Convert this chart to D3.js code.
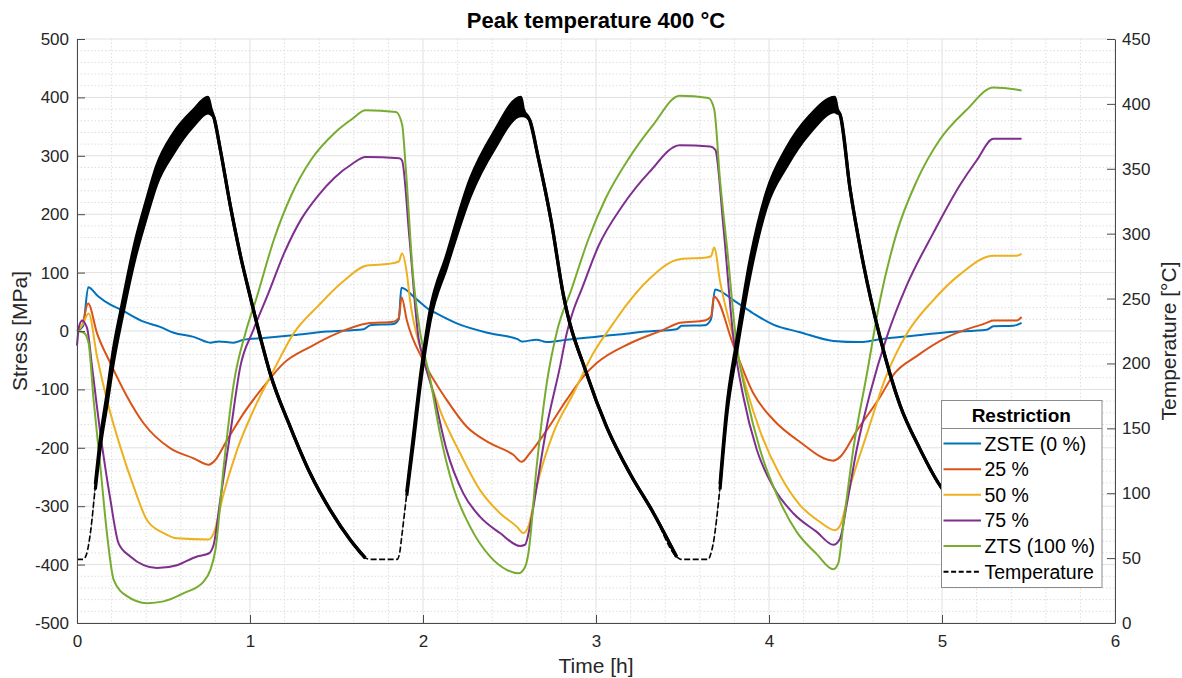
<!DOCTYPE html>
<html>
<head>
<meta charset="utf-8">
<script src="https://cdn.jsdelivr.net/npm/d3@7"></script>
<style>
  body { margin: 0; background: #fff; }
  text { font-family: "Liberation Sans", Arial, sans-serif; }
</style>
</head>
<body>
<div id="chart-container"></div>
<script>
// time [h] vs stress [MPa], one array per restriction level
const zsteData = [[0,0],[0.035,8],[0.065,75],[0.12,60],[0.193,45],[0.25,37],[0.385,16],[0.48,7],[0.559,-3],[0.674,-10],[0.771,-20],[0.82,-18],[0.905,-20],[0.963,-15],[1.079,-12],[1.252,-7],[1.445,-1],[1.657,3],[1.695,10],[1.83,12],[1.86,20],[1.875,74],[1.96,55],[2.04,36],[2.078,30],[2.195,13],[2.387,-4],[2.547,-14],[2.57,-18],[2.657,-15],[2.715,-19],[2.83,-15],[3.1,-7],[3.293,-1],[3.466,3],[3.495,9],[3.63,10],[3.665,20],[3.688,71],[3.794,53],[3.91,30],[4.025,11],[4.179,-2],[4.372,-17],[4.526,-19],[4.642,-14],[4.834,-8],[5.027,-2],[5.258,2],[5.297,8],[5.412,9],[5.46,14]];
const r25Data = [[0,0],[0.03,10],[0.064,47],[0.116,-4],[0.193,-55],[0.289,-112],[0.385,-158],[0.54,-201],[0.674,-218],[0.761,-229],[0.79,-224],[0.867,-187],[0.963,-141],[1.079,-95],[1.195,-55],[1.349,-27],[1.503,-4],[1.676,13],[1.83,16],[1.86,22],[1.876,58],[1.906,19],[2.0,-50],[2.137,-118],[2.253,-164],[2.387,-192],[2.522,-212],[2.57,-224],[2.618,-209],[2.715,-170],[2.83,-118],[2.927,-78],[3.004,-55],[3.197,-21],[3.389,2],[3.486,14],[3.63,18],[3.665,25],[3.682,59],[3.794,-24],[3.91,-107],[4.025,-152],[4.179,-190],[4.372,-222],[4.41,-216],[4.507,-171],[4.642,-113],[4.719,-75],[4.854,-43],[5.027,-11],[5.258,14],[5.297,18],[5.432,18],[5.46,24]];
const r50Data = [[0,0],[0.03,10],[0.067,30],[0.116,-44],[0.173,-118],[0.25,-198],[0.328,-267],[0.405,-324],[0.501,-346],[0.578,-355],[0.761,-357],[0.79,-346],[0.848,-278],[0.925,-204],[1.021,-135],[1.137,-67],[1.252,-4],[1.394,43],[1.531,83],[1.677,112],[1.805,115],[1.86,119],[1.879,133],[1.906,100],[1.925,53],[2.0,-44],[2.098,-135],[2.214,-209],[2.329,-272],[2.445,-312],[2.542,-335],[2.58,-346],[2.609,-335],[2.657,-267],[2.753,-175],[2.869,-107],[2.984,-38],[3.1,13],[3.172,43],[3.308,89],[3.484,123],[3.64,126],[3.665,128],[3.683,143],[3.717,85],[3.794,-11],[3.871,-100],[3.948,-171],[4.064,-247],[4.179,-298],[4.295,-327],[4.382,-341],[4.41,-334],[4.468,-267],[4.565,-177],[4.68,-75],[4.796,-5],[4.95,53],[5.104,97],[5.297,129],[5.432,129],[5.46,132]];
const r75Data = [[0,-25],[0.012,8],[0.03,18],[0.048,12],[0.06,3],[0.087,-61],[0.135,-175],[0.193,-289],[0.241,-364],[0.308,-386],[0.385,-401],[0.462,-406],[0.578,-401],[0.694,-386],[0.761,-381],[0.79,-366],[0.828,-289],[0.886,-175],[0.944,-61],[1.017,0],[1.1,60],[1.2,135],[1.297,192],[1.394,232],[1.49,263],[1.59,286],[1.668,298],[1.863,296],[1.879,292],[1.922,158],[1.975,-14],[2.0,-45],[2.06,-107],[2.137,-204],[2.233,-278],[2.329,-318],[2.445,-346],[2.561,-368],[2.59,-366],[2.618,-335],[2.657,-267],[2.715,-164],[2.792,-61],[2.83,-5],[2.869,35],[2.918,72],[3.015,146],[3.152,214],[3.308,272],[3.484,318],[3.66,316],[3.69,310],[3.736,180],[3.794,-11],[3.852,-113],[3.929,-203],[4.025,-267],[4.14,-312],[4.276,-344],[4.372,-366],[4.41,-356],[4.449,-298],[4.507,-203],[4.584,-107],[4.68,-11],[4.796,78],[4.95,168],[5.104,250],[5.2,292],[5.297,329],[5.46,329]];
const ztsData = [[0,0],[0.04,-3],[0.067,-21],[0.096,-118],[0.135,-232],[0.173,-346],[0.212,-426],[0.289,-454],[0.405,-466],[0.501,-463],[0.617,-449],[0.732,-429],[0.771,-409],[0.8,-375],[0.848,-232],[0.906,-90],[0.977,0],[1.035,54],[1.14,158],[1.238,232],[1.355,294],[1.492,340],[1.59,363],[1.668,378],[1.844,375],[1.879,354],[1.902,272],[1.941,100],[1.985,-5],[2.04,-80],[2.098,-175],[2.175,-267],[2.272,-335],[2.387,-386],[2.484,-409],[2.551,-415],[2.59,-404],[2.609,-381],[2.657,-232],[2.715,-90],[2.775,0],[2.859,72],[2.957,158],[3.054,226],[3.191,296],[3.328,352],[3.484,403],[3.65,399],[3.683,380],[3.717,258],[3.76,135],[3.813,-24],[3.871,-113],[3.948,-203],[4.045,-280],[4.16,-344],[4.276,-382],[4.372,-408],[4.4,-398],[4.43,-331],[4.487,-203],[4.565,-75],[4.642,53],[4.738,168],[4.854,257],[4.988,328],[5.143,379],[5.297,417],[5.46,412]];

// temperature: time [h], upper and lower edge of the oscillating band [°C]
const tempData = [[0,49,49],[0.035,49,49],[0.055,53,53],[0.077,70,68],[0.106,107,103],[0.135,142,136],[0.173,176,168],[0.212,212,202],[0.26,245,235],[0.335,293,281],[0.4,325,312],[0.46,352,338],[0.557,377,362],[0.672,395,383],[0.757,405,393],[0.775,396,392],[0.79,390,390],[0.828,365,365],[0.887,321,321],[0.945,283,283],[1.004,250,250],[1.062,219,219],[1.117,192,192],[1.233,151,151],[1.349,115,115],[1.464,87,87],[1.58,64,64],[1.667,50,50],[1.7,49,49],[1.85,49,49],[1.865,54,54],[1.877,67,66],[1.906,101,98],[1.944,144,138],[1.983,188,182],[2.04,240,232],[2.136,283,274],[2.273,342,329],[2.41,378,365],[2.566,405,391],[2.58,396,391],[2.615,388,388],[2.664,360,360],[2.742,309,309],[2.811,253,253],[2.946,192,192],[3.062,151,151],[3.197,115,115],[3.331,85,85],[3.466,51,51],[3.49,49,49],[3.649,49,49],[3.665,54,54],[3.678,62,61],[3.717,107,103],[3.755,165,159],[3.813,217,209],[3.89,279,268],[3.986,332,321],[4.102,366,352],[4.237,391,378],[4.38,405,394],[4.395,396,393],[4.41,392,392],[4.468,335,335],[4.545,277,277],[4.642,220,220],[4.757,168,168],[4.873,134,134],[4.988,106,106],[5.02,100,100]];

const seriesNames = ["ZSTE (0 %)", "25 %", "50 %", "75 %", "ZTS (100 %)"];
const seriesList = [zsteData, r25Data, r50Data, r75Data, ztsData];
const seriesColors = ["#0072BD", "#D95319", "#EDB120", "#7E2F8E", "#77AC30"];
const xTicks = [0, 1, 2, 3, 4, 5, 6];
const stressTicks = [-500, -400, -300, -200, -100, 0, 100, 200, 300, 400, 500];
const tempTicks = [0, 50, 100, 150, 200, 250, 300, 350, 400, 450];

const margin = { top: 39, right: 67, bottom: 55, left: 77 };
const width = 1182 - margin.left - margin.right;
const height = 678 - margin.top - margin.bottom;

const xScale = d3.scaleLinear().domain([0, 6]).range([0, width]);
const yScale = d3.scaleLinear().domain([-500, 500]).range([height, 0]);
const yTemp = d3.scaleLinear().domain([0, 450]).range([height, 0]);

const root = d3
  .select("#chart-container")
  .append("svg")
  .attr("width", 1182)
  .attr("height", 678);

const svg = root
  .append("g")
  .attr("transform", `translate(${margin.left},${margin.top})`);

// minor grid (dotted), then major grid
const minorX = d3.range(0.2, 6, 0.2).filter((v) => Math.abs(v - Math.round(v)) > 0.01);
const minorY = d3.range(-480, 500, 20).filter((v) => v % 100 !== 0);
const grid = svg.append("g");
grid.selectAll(".mx").data(minorX).join("line")
  .attr("x1", (d) => xScale(d)).attr("x2", (d) => xScale(d))
  .attr("y1", 0).attr("y2", height)
  .attr("stroke", "#dedede").attr("stroke-dasharray", "1.5,2");
grid.selectAll(".my").data(minorY).join("line")
  .attr("x1", 0).attr("x2", width)
  .attr("y1", (d) => yScale(d)).attr("y2", (d) => yScale(d))
  .attr("stroke", "#dedede").attr("stroke-dasharray", "1.5,2");
grid.selectAll(".gx").data(xTicks).join("line")
  .attr("x1", (d) => xScale(d)).attr("x2", (d) => xScale(d))
  .attr("y1", 0).attr("y2", height)
  .attr("stroke", "#e0e0e0");
grid.selectAll(".gy").data(stressTicks).join("line")
  .attr("x1", 0).attr("x2", width)
  .attr("y1", (d) => yScale(d)).attr("y2", (d) => yScale(d))
  .attr("stroke", "#e0e0e0");

// stress lines
const line = d3.line()
  .curve(d3.curveMonotoneX)
  .x((d) => xScale(d[0]))
  .y((d) => yScale(d[1]));
seriesList.forEach((data, i) => {
  svg.append("path")
    .datum(data)
    .attr("fill", "none")
    .attr("stroke", seriesColors[i])
    .attr("stroke-width", 2)
    .attr("stroke-linejoin", "round")
    .attr("d", line);
});

// temperature band + line
const tempArea = d3.area()
  .curve(d3.curveMonotoneX)
  .x((d) => xScale(d[0]))
  .y0((d) => yTemp(d[2]))
  .y1((d) => yTemp(d[1]));
// thick where the signal oscillates or cools, thin dashed during hold / start of heating
const isThick = (d) => d[2] >= 95 || (d[1] === d[2] && d[2] >= 50);
const tempHi = d3.line().curve(d3.curveMonotoneX).defined(isThick)
  .x((d) => xScale(d[0])).y((d) => yTemp(d[1]));
const tempLo = d3.line().curve(d3.curveMonotoneX).defined(isThick)
  .x((d) => xScale(d[0])).y((d) => yTemp(d[2]));
const tempMid = d3.line().curve(d3.curveMonotoneX)
  .x((d) => xScale(d[0])).y((d) => yTemp((d[1] + d[2]) / 2));

svg.append("path").datum(tempData)
  .attr("fill", "none").attr("stroke", "#000").attr("stroke-width", 1.6)
  .attr("stroke-dasharray", "6,2.5").attr("d", tempMid);
svg.append("path").datum(tempData).attr("fill", "#000").attr("d", tempArea);
svg.append("path").datum(tempData)
  .attr("fill", "none").attr("stroke", "#000").attr("stroke-width", 3.2)
  .attr("stroke-linejoin", "round").attr("d", tempHi);
svg.append("path").datum(tempData)
  .attr("fill", "none").attr("stroke", "#000").attr("stroke-width", 3.2)
  .attr("stroke-linejoin", "round").attr("d", tempLo);

// axes, ticks pointing inwards
const axisColor = "#4a4a4a";
const plainNum = (d) => String(d);
function styleAxis(g) {
  g.select(".domain").attr("stroke", axisColor);
  g.selectAll(".tick line").attr("stroke", axisColor);
  g.selectAll(".tick text")
    .attr("fill", "#262626")
    .style("font-size", "17px")
    .style("font-family", "'Liberation Sans', Arial, sans-serif");
}

svg.append("g")
  .attr("transform", `translate(0,${height})`)
  .call(d3.axisBottom(xScale).tickValues(xTicks).tickSizeInner(-8).tickSizeOuter(0).tickPadding(12).tickFormat(plainNum))
  .call(styleAxis);

svg.append("g")
  .call(d3.axisLeft(yScale).tickValues(stressTicks).tickSizeInner(-8).tickSizeOuter(0).tickPadding(8).tickFormat(plainNum))
  .call(styleAxis);

svg.append("g")
  .attr("transform", `translate(${width},0)`)
  .call(d3.axisRight(yTemp).tickValues(tempTicks).tickSizeInner(-8).tickSizeOuter(0).tickPadding(7).tickFormat(plainNum))
  .call(styleAxis);

// titles
root.append("text")
  .attr("x", margin.left + width / 2)
  .attr("y", 28)
  .attr("text-anchor", "middle")
  .style("font-size", "22px")
  .style("font-weight", "bold")
  .attr("fill", "#000")
  .text("Peak temperature 400 °C");

root.append("text")
  .attr("transform", `translate(27,${margin.top + height / 2}) rotate(-90)`)
  .attr("text-anchor", "middle")
  .style("font-size", "21px")
  .attr("fill", "#262626")
  .text("Stress [MPa]");

root.append("text")
  .attr("transform", `translate(1176,341) rotate(-90)`)
  .attr("text-anchor", "middle")
  .style("font-size", "21px")
  .attr("fill", "#262626")
  .text("Temperature [°C]");

root.append("text")
  .attr("x", margin.left + width / 2)
  .attr("y", 673)
  .attr("text-anchor", "middle")
  .style("font-size", "21px")
  .attr("fill", "#262626")
  .text("Time [h]");

// legend
const legend = root.append("g").attr("transform", "translate(941,400)");
const legW = 160.5, legH = 187, rowH = 25.65;
legend.append("rect")
  .attr("x", 0.5).attr("y", 0.5)
  .attr("width", legW).attr("height", legH)
  .attr("fill", "#fff").attr("stroke", "#8a8a8a");
legend.append("line")
  .attr("x1", 0.5).attr("x2", legW + 0.5)
  .attr("y1", 28.5).attr("y2", 28.5)
  .attr("stroke", "#8a8a8a");
legend.append("text")
  .attr("x", legW / 2).attr("y", 22)
  .attr("text-anchor", "middle")
  .style("font-size", "19px").style("font-weight", "bold")
  .text("Restriction");

const legendItems = seriesNames.map((n, i) => ({ name: n, color: seriesColors[i], dash: null }));
legendItems.push({ name: "Temperature", color: "#000", dash: "5,2.6" });

const rows = legend.selectAll(".row").data(legendItems).join("g")
  .attr("transform", (d, i) => `translate(0,${43.5 + i * rowH})`);
rows.append("line")
  .attr("x1", 2.5).attr("x2", 40)
  .attr("stroke", (d) => d.color)
  .attr("stroke-width", (d) => (d.dash ? 1.8 : 2))
  .attr("stroke-dasharray", (d) => d.dash);
rows.append("text")
  .attr("x", 43.5).attr("y", 0)
  .attr("dy", "0.36em")
  .style("font-size", "19.5px")
  .attr("fill", "#000")
  .text((d) => d.name);
</script>
</body>
</html>
